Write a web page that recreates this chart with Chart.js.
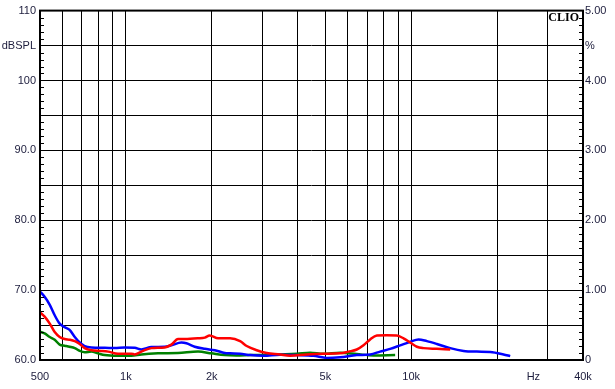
<!DOCTYPE html>
<html>
<head>
<meta charset="utf-8">
<script src="https://cdn.jsdelivr.net/npm/chart.js@4.4.0/dist/chart.umd.min.js"></script>
<style>
    html, body { margin: 0; padding: 0; background: #fff; }
    #wrap { position: relative; width: 615px; height: 389px; }
</style>
</head>
<body>
<div id="wrap"><canvas id="chart"></canvas></div>
<script>
// Frequency response traces (Hz -> dBSPL)
const RED_FREQ = [500, 519, 541, 563, 586, 610, 635, 662, 689, 717, 757, 820, 866, 939, 1045, 1074, 1133, 1229, 1368, 1443, 1523, 1608, 1790, 1890, 1967, 2104, 2318, 2513, 2652, 2875, 3117, 3471, 3762, 4305, 4925, 5637, 6027, 6447, 6804, 7180, 7579, 8214, 8905, 9397, 9914, 10466, 11046, 12298, 13697];
const RED_DB   = [66.8, 66.2, 65.2, 64.0, 63.3, 63.0, 62.9, 62.7, 62.3, 61.7, 61.4, 61.3, 61.2, 60.9, 60.9, 60.8, 61.2, 61.7, 61.8, 62.2, 63.0, 63.0, 63.1, 63.2, 63.5, 63.1, 63.1, 62.7, 62.0, 61.4, 61.0, 60.8, 60.6, 60.8, 60.9, 60.95, 61.2, 61.5, 62.1, 62.95, 63.5, 63.55, 63.5, 63.1, 62.5, 61.9, 61.7, 61.6, 61.5];

const BLUE_FREQ = [500, 519, 541, 563, 586, 610, 635, 662, 689, 717, 757, 843, 914, 990, 1074, 1133, 1229, 1368, 1443, 1565, 1630, 1743, 1890, 2049, 2221, 2318, 2513, 2725, 3035, 3471, 3972, 4543, 5060, 5637, 6447, 7180, 7780, 8438, 9149, 9914, 10607, 11347, 12298, 13697, 15255, 16984, 18913, 21058, 22230];
const BLUE_DB   = [69.8, 69.05, 67.9, 66.4, 65.2, 64.7, 64.3, 63.3, 62.5, 62.0, 61.8, 61.75, 61.7, 61.8, 61.75, 61.5, 61.85, 61.9, 62.1, 62.5, 62.4, 61.9, 61.6, 61.4, 61.0, 60.95, 60.9, 60.7, 60.6, 60.75, 60.7, 60.6, 60.3, 60.4, 60.7, 60.8, 61.2, 61.6, 62.1, 62.6, 62.95, 62.7, 62.3, 61.7, 61.3, 61.2, 61.15, 60.8, 60.55];

const GREEN_FREQ = [500, 519, 541, 563, 586, 610, 635, 662, 689, 717, 757, 798, 843, 939, 1045, 1133, 1296, 1523, 1790, 1994, 2221, 2440, 2725, 3202, 3972, 4422, 4925, 5637, 6447, 7377, 8785];
const GREEN_DB   = [64.05, 63.8, 63.3, 62.9, 62.2, 62.05, 61.9, 61.7, 61.3, 61.1, 61.2, 60.95, 60.7, 60.6, 60.6, 60.8, 60.95, 61.0, 61.2, 60.95, 60.7, 60.65, 60.7, 60.75, 60.9, 61.05, 60.9, 61.05, 60.85, 60.65, 60.7];

// axes
const X_GRID = [500, 600, 700, 800, 900, 1000, 2000, 3000, 4000, 5000, 6000, 7000, 8000, 9000, 10000, 20000, 30000, 40000];
const HZ_POS = 26800; // where the "Hz" unit label sits, no grid line there
const X_LABELS = { 500: '500', 1000: '1k', 2000: '2k', 5000: '5k', 10000: '10k', [HZ_POS]: 'Hz', 40000: '40k' };
const Y_LABELS = { 60: '60.0', 70: '70.0', 80: '80.0', 90: '90.0', 100: '100', 105: 'dBSPL', 110: '110' };
const Y2_LABELS = { 0: '0', 1: '1.00', 2: '2.00', 3: '3.00', 4: '4.00', 4.5: '%', 5: '5.00' };
const MINOR_DB_STEP = 1;

const toPoints = (freq, db) => freq.map((f, i) => ({ x: f, y: db[i] }));
const LABEL_COLOR = '#1c1c3c';
const LABEL_FONT = { family: "'Liberation Sans', Arial, sans-serif", size: 11 };

function trace(label, freq, db, color) {
    return {
        label,
        data: toPoints(freq, db),
        borderColor: color,
        backgroundColor: color,
        borderWidth: 2.5,
        pointRadius: 0,
        cubicInterpolationMode: 'monotone',
        fill: false
    };
}

// frame, inner minor ticks and the CLIO mark
const clioFrame = {
    id: 'clioFrame',
    afterDraw(chart) {
        const { ctx, chartArea: a } = chart;
        const y = chart.scales.y;
        ctx.save();
        ctx.strokeStyle = '#000';
        ctx.lineWidth = 1;
        ctx.beginPath();
        for (let v = 60; v <= 110; v += MINOR_DB_STEP) {
            if (v % 5 === 0) continue;
            const py = Math.round(y.getPixelForValue(v)) + 0.5;
            ctx.moveTo(a.left, py); ctx.lineTo(a.left + 4, py);
            ctx.moveTo(a.right, py); ctx.lineTo(a.right - 4, py);
        }
        ctx.stroke();
        ctx.lineWidth = 2;
        ctx.strokeRect(a.left, a.top, a.right - a.left, a.bottom - a.top);
        ctx.fillStyle = '#000';
        ctx.font = "bold 12px 'Liberation Serif', 'Times New Roman', serif";
        ctx.textAlign = 'right';
        ctx.textBaseline = 'alphabetic';
        ctx.fillText('CLIO', a.right - 4, a.top + 10.5);
        ctx.restore();
    }
};

new Chart(document.getElementById('chart'), {
    type: 'line',
    data: {
        datasets: [
            trace('red', RED_FREQ, RED_DB, '#ff0000'),
            trace('blue', BLUE_FREQ, BLUE_DB, '#0000ff'),
            trace('green', GREEN_FREQ, GREEN_DB, '#008000')
        ]
    },
    options: {
        responsive: true,
        maintainAspectRatio: false,
        animation: false,
        events: [],
        layout: { padding: { top: 8, left: 0, right: 0, bottom: 0 } },
        plugins: { legend: { display: false }, tooltip: { enabled: false } },
        scales: {
            x: {
                type: 'logarithmic',
                min: 500,
                max: 40000,
                afterBuildTicks: s => { s.ticks = X_GRID.concat([HZ_POS]).map(v => ({ value: v })); },
                afterFit: s => { s.height = 29; },
                grid: {
                    color: c => (c.tick && c.tick.value === HZ_POS) ? 'rgba(0,0,0,0)' : '#000',
                    lineWidth: 1,
                    drawTicks: false
                },
                border: { display: false },
                ticks: {
                    autoSkip: false,
                    maxRotation: 0,
                    padding: 10,
                    color: LABEL_COLOR,
                    font: LABEL_FONT,
                    callback: v => X_LABELS[v] || ''
                }
            },
            y: {
                type: 'linear',
                position: 'left',
                min: 60,
                max: 110,
                afterBuildTicks: s => {
                    const t = [];
                    for (let v = 60; v <= 110; v += 5) t.push({ value: v });
                    s.ticks = t;
                },
                afterFit: s => { s.width = 40; },
                grid: { color: '#000', lineWidth: 1, drawTicks: false },
                border: { display: false },
                ticks: {
                    padding: 4,
                    color: LABEL_COLOR,
                    font: LABEL_FONT,
                    callback: v => Y_LABELS[v] || ''
                }
            },
            y2: {
                type: 'linear',
                position: 'right',
                min: 0,
                max: 5,
                afterBuildTicks: s => {
                    const t = [];
                    for (let i = 0; i <= 10; i++) t.push({ value: i / 2 });
                    s.ticks = t;
                },
                afterFit: s => { s.width = 32; },
                grid: { drawOnChartArea: false, drawTicks: false },
                border: { display: false },
                ticks: {
                    padding: 2,
                    color: LABEL_COLOR,
                    font: LABEL_FONT,
                    callback: v => Y2_LABELS[v] || ''
                }
            }
        }
    },
    plugins: [clioFrame]
});
</script>
</body>
</html>
